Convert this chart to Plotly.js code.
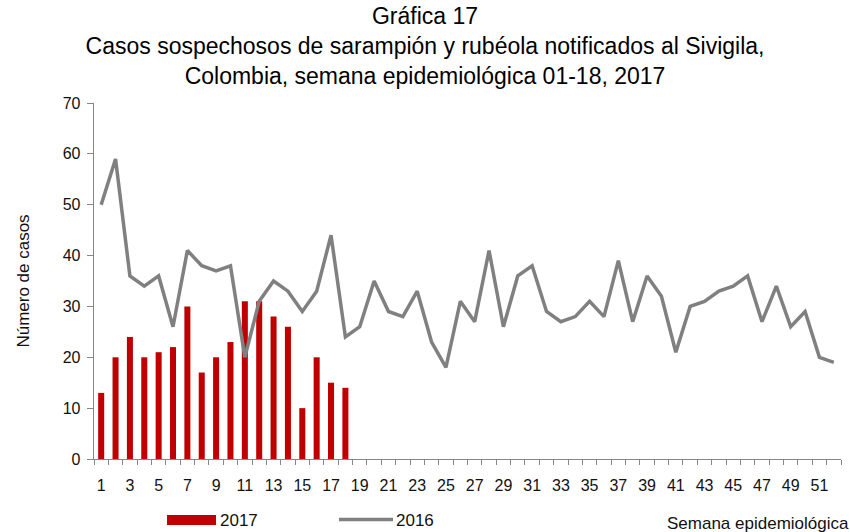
<!DOCTYPE html>
<html>
<head>
<meta charset="utf-8">
<script src="https://cdn.plot.ly/plotly-3.0.1.min.js"></script>
<style>html,body{margin:0;padding:0;background:#fff;}</style>
</head>
<body>
<div id="chart" style="width:850px;height:532px;"></div>
<script>
// Semanas epidemiológicas
const weeks = [1,2,3,4,5,6,7,8,9,10,11,12,13,14,15,16,17,18,19,20,21,22,23,24,25,26,
  27,28,29,30,31,32,33,34,35,36,37,38,39,40,41,42,43,44,45,46,47,48,49,50,51,52];
const weeks2017 = [1,2,3,4,5,6,7,8,9,10,11,12,13,14,15,16,17,18];
// 2017 (barras)
const cases2017 = [13,20,24,20,21,22,30,17,20,23,31,31,28,26,10,20,15,14];
// 2016 (línea)
const cases2016 = [50,59,36,34,36,26,41,38,37,38,20,31,35,33,29,33,44,24,26,35,29,28,33,23,18,31,
  27,41,26,36,38,29,27,28,31,28,39,27,36,32,21,30,31,33,34,36,27,34,26,29,20,19];
// Etiquetas del eje X
const tickWeeks = [1,3,5,7,9,11,13,15,17,19,21,23,25,27,29,31,33,35,37,39,41,43,45,47,49,51];
const tickLabels = ['1','3','5','7','9','11','13','15','17','19','21','23','25','27','29','31','33','35','37','39','41','43','45','47','49','51'];
const seriesNames = ['2017','2016'];

const REG = '"Liberation Sans", Arial, sans-serif';
const AX = '#868686';
const TXT = '#111';

const traces = [
  {type:'bar', x:weeks2017, y:cases2017, name:seriesNames[0],
   marker:{color:'#C00000'}, hoverinfo:'x+y'},
  {type:'scatter', mode:'lines', x:weeks, y:cases2016, name:seriesNames[1],
   line:{color:'#808080', width:3.5}, hoverinfo:'x+y'}
];

// pixel helpers for legend placement (plot area 94..841 x 103..459)
const L=94, R=841, T=103, B=459;
const px = v => (v-L)/(R-L);
const py = v => (B-v)/(B-T);

const layout = {
  width:850, height:532,
  paper_bgcolor:'#fff', plot_bgcolor:'#fff',
  margin:{l:L, r:850-R, t:T, b:532-B, pad:0},
  showlegend:false,
  bargap:0.58,
  title:{
    text:'Gráfica 17<br>Casos sospechosos de sarampión y rubéola notificados al Sivigila,<br>Colombia, semana epidemiológica 01-18, 2017',
    font:{family:REG, size:23, color:'#000'},
    x:0.5, xref:'container', xanchor:'center',
    y:1-18/532, yref:'container', yanchor:'top', pad:{t:6}
  },
  xaxis:{
    range:[0.5,52.5], tickmode:'array', tickvals:tickWeeks, ticktext:tickLabels,
    ticks:'outside', ticklen:6, tickcolor:'rgba(0,0,0,0)',
    showline:true, linecolor:AX, linewidth:1.3,
    showgrid:false, zeroline:false,
    tickfont:{family:REG, size:16, color:TXT},
    ticklabelstandoff:5,
    minor:{ticks:'outside', ticklen:5, tick0:0.5, dtick:1, tickcolor:AX, tickwidth:1, showgrid:false},
    fixedrange:true
  },
  yaxis:{
    range:[0,70], dtick:10, tick0:0,
    ticks:'outside', ticklen:6, tickcolor:AX, tickwidth:1,
    showline:true, linecolor:AX, linewidth:1.3,
    showgrid:false, zeroline:false,
    tickfont:{family:REG, size:16, color:TXT},
    ticklabelstandoff:3,
    title:{text:'Número de casos', font:{family:REG, size:17, color:TXT}, standoff:28},
    automargin:false, fixedrange:true
  },
  shapes:[
    {type:'rect', xref:'paper', yref:'paper', x0:px(167), x1:px(216), y0:py(525), y1:py(515),
     fillcolor:'#C00000', line:{width:0}},
    {type:'line', xref:'paper', yref:'paper', x0:px(339), x1:px(393), y0:py(519.5), y1:py(519.5),
     line:{color:'#808080', width:3.5}}
  ],
  annotations:[
    {xref:'paper', yref:'paper', x:px(218), y:py(520), xanchor:'left', yanchor:'middle',
     text:seriesNames[0], showarrow:false, font:{family:REG, size:17, color:TXT}},
    {xref:'paper', yref:'paper', x:px(394), y:py(520), xanchor:'left', yanchor:'middle',
     text:seriesNames[1], showarrow:false, font:{family:REG, size:17, color:TXT}},
    {xref:'paper', yref:'paper', x:px(665), y:py(523), xanchor:'left', yanchor:'middle',
     text:'Semana epidemiológica', showarrow:false, font:{family:REG, size:17, color:TXT}}
  ]
};

Plotly.newPlot('chart', traces, layout, {displayModeBar:false, staticPlot:true});
</script>
</body>
</html>
